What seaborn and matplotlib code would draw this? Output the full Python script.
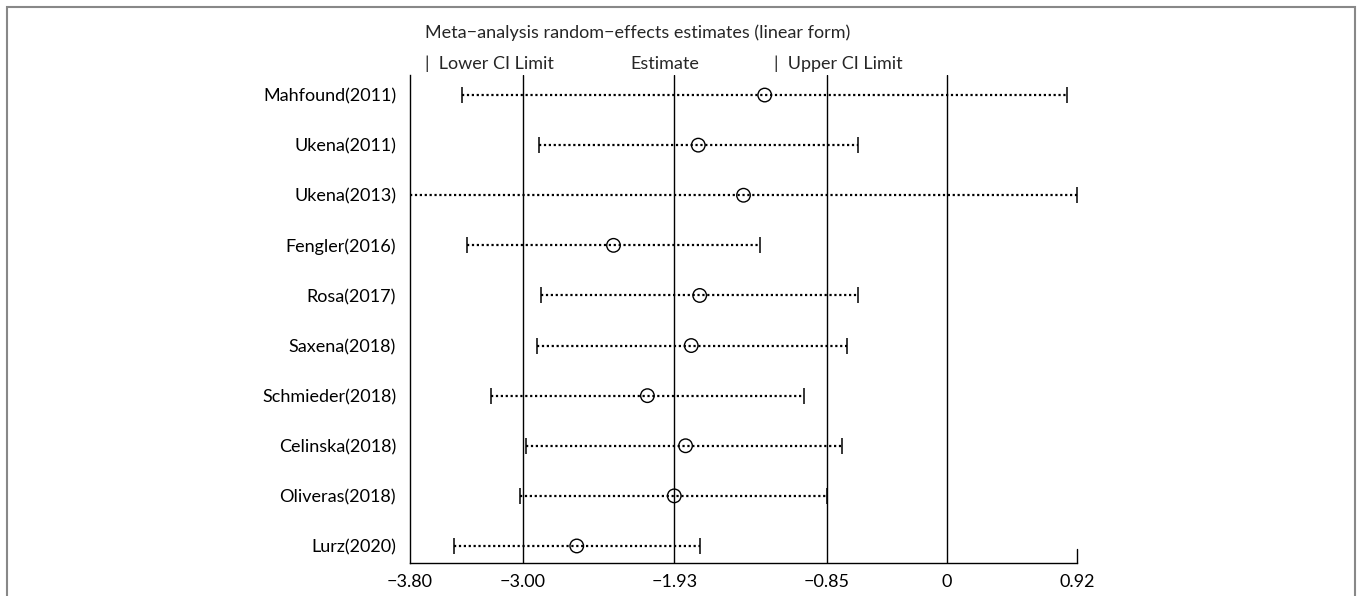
import pandas as pd
import numpy as np
import matplotlib.pyplot as plt
from matplotlib.patches import Rectangle
import seaborn as sns

# study labels and estimates
studies = ['Mahfound(2011)', 'Ukena(2011)', 'Ukena(2013)', 'Fengler(2016)', 'Rosa(2017)',
           'Saxena(2018)', 'Schmieder(2018)', 'Celinska(2018)', 'Oliveras(2018)', 'Lurz(2020)']
lower = [-3.43, -2.89, -3.80, -3.40, -2.87, -2.90, -3.23, -2.98, -3.02, -3.49]
estimate = [-1.29, -1.76, -1.44, -2.36, -1.75, -1.81, -2.12, -1.85, -1.93, -2.62]
upper = [0.85, -0.63, 0.92, -1.32, -0.63, -0.71, -1.01, -0.74, -0.85, -1.75]

# reference lines: overall lower CI, estimate, upper CI, and zero
ref_lines = [-3.00, -1.93, -0.85, 0.0]
x_ticks = [-3.80, -3.00, -1.93, -0.85, 0.0, 0.92]
x_ticklabels = ['\u22123.80', '\u22123.00', '\u22121.93', '\u22120.85', '0', '0.92']

df = pd.DataFrame({'study': studies, 'lower': lower, 'estimate': estimate, 'upper': upper})
df['pos'] = np.arange(len(df))

sns.set_theme(style='white')
plt.rcParams['font.family'] = ['Lato', 'DejaVu Sans']
fs = 13

fig = plt.figure(figsize=(13.57, 5.96), dpi=100)
ax = fig.add_axes([410 / 1357, 33 / 596, 667 / 1357, 488 / 596])

for xv in ref_lines:
    ax.axvline(xv, color='black', lw=1.0, zorder=1)

ax.hlines(df['pos'], df['lower'], df['upper'], color='black', lw=1.6,
          linestyles=(0, (1, 1.2)), zorder=2)
ax.plot(df['lower'], df['pos'], ls='none', marker='|', ms=12, mew=1.1, color='black', zorder=3)
ax.plot(df['upper'], df['pos'], ls='none', marker='|', ms=12, mew=1.1, color='black', zorder=3)

sns.scatterplot(ax=ax, data=df, x='estimate', y='pos', s=95, marker='o',
                facecolor='none', edgecolor='black', linewidth=1.0, zorder=4)

ax.set_xlim(-3.80, 0.92)
ax.set_ylim(9.34, -0.40)
ax.set_xticks(x_ticks)
ax.set_xticklabels(x_ticklabels, fontsize=fs)
ax.set_yticks(df['pos'])
ax.set_yticklabels(df['study'], fontsize=fs)
ax.tick_params(axis='x', direction='in', length=9, width=1.0, pad=8, colors='black')
ax.tick_params(axis='y', length=0, pad=10, colors='black')
ax.set_xlabel('')
ax.set_ylabel('')

for side in ['top', 'right']:
    ax.spines[side].set_visible(False)
for side in ['left', 'bottom']:
    ax.spines[side].set_color('black')
    ax.spines[side].set_linewidth(1.0)
# short tick at the right end of the axis
ax.plot([0.92, 0.92], [9.34, 9.06], color='black', lw=1.0, clip_on=False)

fig.text(425 / 1357, 1 - 33 / 596, 'Meta\u2212analysis random\u2212effects estimates (linear form)',
         fontsize=fs, va='center', ha='left')
fig.text(425 / 1357, 1 - 64 / 596, '|  Lower CI Limit', fontsize=fs, va='center', ha='left')
fig.text(665 / 1357, 1 - 64 / 596, 'Estimate', fontsize=fs, va='center', ha='center')
fig.text(774 / 1357, 1 - 64 / 596, '|  Upper CI Limit', fontsize=fs, va='center', ha='left')

fig.add_artist(Rectangle((7 / 1357, -0.05), 1348 / 1357, 1.05 - 7 / 596,
                         transform=fig.transFigure, fill=False, edgecolor='#888888', lw=1.5))

fig.savefig('out.png', dpi=100)
